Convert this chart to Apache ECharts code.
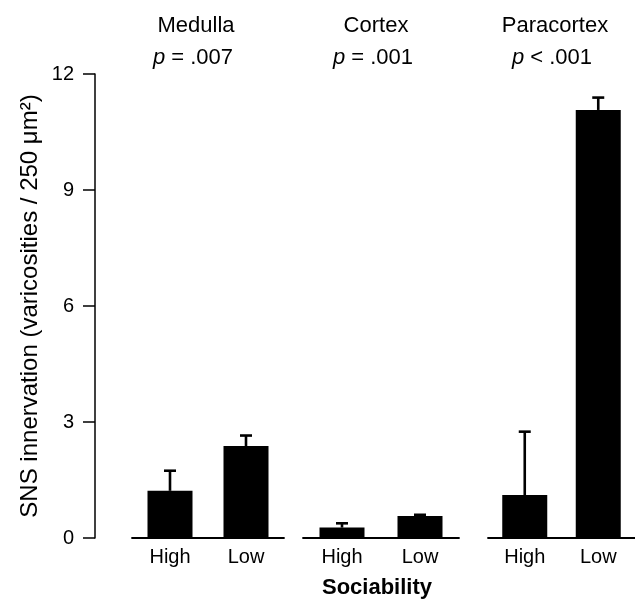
<!DOCTYPE html>
<html>
<head>
<meta charset="utf-8">
<script src="https://cdn.jsdelivr.net/npm/echarts@6/dist/echarts.min.js"></script>
<style>
  html, body { margin: 0; padding: 0; background: #fff; }
  #chart { width: 635px; height: 599px; }
</style>
</head>
<body>
<div id="chart"></div>
<script>
  // data
  const categories = ['High', 'Low']
  const regions = ['Medulla', 'Cortex', 'Paracortex']
  const pLabels = ['= .007', '= .001', '< .001']
  const medullaMeans = [1.22, 2.38]
  const medullaErr = [0.52, 0.27]
  const cortexMeans = [0.27, 0.57]
  const cortexErr = [0.11, 0.03]
  const paracortexMeans = [1.11, 11.07]
  const paracortexErr = [1.64, 0.32]
  const yTicks = [0, 3, 6, 9, 12]

  const means = [medullaMeans, cortexMeans, paracortexMeans]
  const errs = [medullaErr, cortexErr, paracortexErr]

  const font = 'Liberation Sans, Arial, Helvetica, sans-serif'
  // panel placement (layout only)
  const panels = [
    { left: 132, width: 152, title: 196 },
    { left: 303, width: 156, title: 376 },
    { left: 488, width: 156, title: 555 }
  ]
  const gridTop = 74
  const gridHeight = 464

  const chart = echarts.init(document.getElementById('chart'))

  const grid = panels.map(p => ({ left: p.left, top: gridTop, width: p.width, height: gridHeight }))

  const xAxis = panels.map((p, i) => ({
    type: 'category',
    gridIndex: i,
    data: categories,
    axisTick: { show: false },
    axisLine: { lineStyle: { color: '#000', width: 1.8 } },
    axisLabel: { color: '#000', fontSize: 20, fontFamily: font, margin: 9 }
  }))

  const yAxis = panels.map((p, i) => ({
    type: 'value',
    gridIndex: i,
    min: yTicks[0],
    max: yTicks[yTicks.length - 1],
    interval: 3,
    show: i === 0,
    offset: i === 0 ? 37 : 0,
    splitLine: { show: false },
    axisLine: { show: true, lineStyle: { color: '#000', width: 1.5 } },
    axisTick: { show: true, length: 12, lineStyle: { color: '#000', width: 1.5 } },
    axisLabel: { color: '#000', fontSize: 20, fontFamily: font, margin: 21 },
    name: i === 0 ? 'SNS innervation (varicosities / 250 μm²)' : '',
    nameLocation: 'middle',
    nameGap: 53,
    nameTextStyle: { color: '#000', fontSize: 24, fontFamily: font }
  }))

  function errorBar (params, api) {
    const base = api.coord([api.value(0), api.value(1)])
    const tip = api.coord([api.value(0), api.value(2)])
    const style = { stroke: '#000', lineWidth: 2.6 }
    return {
      type: 'group',
      children: [
        { type: 'line', shape: { x1: tip[0], y1: base[1], x2: tip[0], y2: tip[1] }, style: style },
        { type: 'line', shape: { x1: tip[0] - 6, y1: tip[1], x2: tip[0] + 6, y2: tip[1] }, style: style }
      ]
    }
  }

  const series = []
  means.forEach((vals, i) => {
    series.push({
      type: 'bar',
      xAxisIndex: i,
      yAxisIndex: i,
      barWidth: 45,
      itemStyle: { color: '#000' },
      data: vals
    })
    series.push({
      type: 'custom',
      xAxisIndex: i,
      yAxisIndex: i,
      renderItem: errorBar,
      z: 3,
      data: vals.map((v, j) => [j, v, v + errs[i][j]])
    })
  })

  const graphic = []
  panels.forEach((p, i) => {
    graphic.push({
      type: 'text',
      x: p.title,
      y: 26,
      style: { text: regions[i], font: '22px ' + font, fill: '#000', align: 'center', verticalAlign: 'middle' }
    })
    graphic.push({
      type: 'text',
      x: p.title - 3,
      y: 58,
      style: {
        text: '{i|p} ' + pLabels[i],
        font: '22px ' + font,
        fill: '#000',
        align: 'center',
        verticalAlign: 'middle',
        rich: { i: { fontStyle: 'italic', fontSize: 22, fontFamily: font, fill: '#000' } }
      }
    })
  })
  graphic.push({
    type: 'text',
    x: 377,
    y: 588,
    style: { text: 'Sociability', font: 'bold 22px ' + font, fill: '#000', align: 'center', verticalAlign: 'middle' }
  })

  chart.setOption({
    animation: false,
    backgroundColor: '#fff',
    grid: grid,
    xAxis: xAxis,
    yAxis: yAxis,
    series: series,
    graphic: graphic
  })
</script>
</body>
</html>
